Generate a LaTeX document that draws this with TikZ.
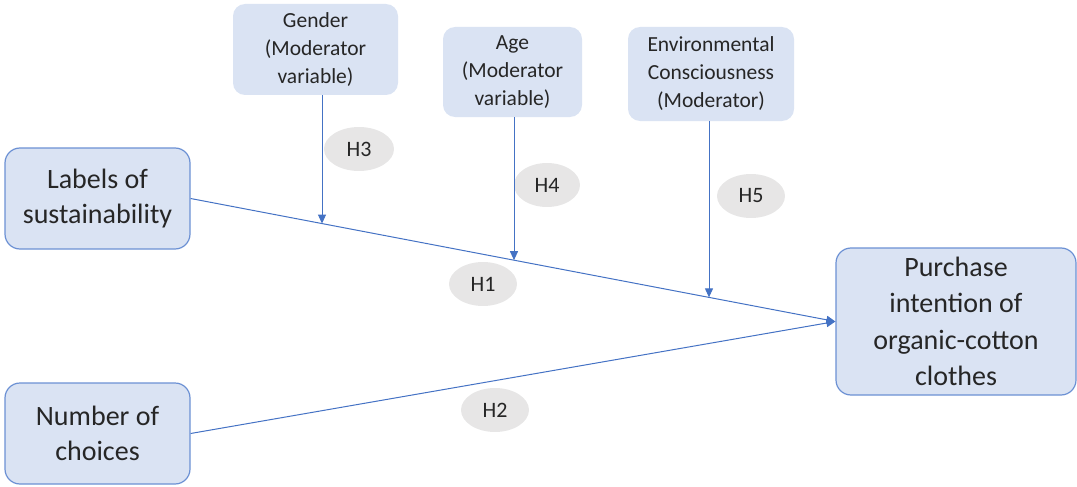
\documentclass[tikz,border=0pt]{standalone}
\usepackage{fontspec}
\setmainfont{Carlito}
\usetikzlibrary{arrows.meta,shapes.geometric,calc}
\definecolor{boxfill}{HTML}{DAE3F3}
\definecolor{boxline}{HTML}{6C91D4}
\definecolor{arrowc}{HTML}{4472C4}
\definecolor{ellfill}{HTML}{E7E6E6}
\definecolor{txt}{HTML}{262626}
\tikzset{
  mainbox/.style={draw=boxline, line width=1.2pt, fill=boxfill, rounded corners=15pt, align=center, text=txt,
    font=\fontsize{28}{35}\selectfont, inner sep=0pt},
  modbox/.style={fill=boxfill, rounded corners=12pt, align=center, text=txt,
    font=\fontsize{21.5}{28}\selectfont, inner sep=0pt},
  hyp/.style={ellipse, fill=ellfill, text=txt, minimum width=68pt, minimum height=44pt, inner sep=0pt,
    font=\fontsize{22}{26}\selectfont},
  conn/.style={draw=arrowc, line width=1pt},
  modarrow/.style={draw=arrowc, line width=1pt, -{Triangle[length=9pt,width=8pt]}},
}
\begin{document}
\begin{tikzpicture}[x=1pt,y=-1pt]
\useasboundingbox (0,0) rectangle (1077,487);
% main boxes
\node[mainbox, minimum width=185pt, minimum height=101pt] (lab) at (97.5,198.5) {\raisebox{-2pt}{\parbox{180pt}{\centering Labels of\\sustainability}}};
\node[mainbox, minimum width=185pt, minimum height=101pt] (num) at (97.5,433.5) {\raisebox{-2pt}{\parbox{180pt}{\centering Number of\\choices}}};
\node[mainbox, minimum width=240pt, minimum height=147pt, font=\fontsize{28}{36.3}\selectfont] (pur) at (956,321.5) {Purchase\\intention of\\organic-cotton\\clothes};
% moderators
\node[modbox, minimum width=165pt, minimum height=91pt] (gen) at (315.5,49.5) {Gender\\(Moderator\\variable)};
\node[modbox, minimum width=139pt, minimum height=90pt] (age) at (512.5,72) {Age\\(Moderator\\variable)};
\node[modbox, minimum width=166pt, minimum height=94pt] (env) at (711,74) {Environmental\\Consciousness\\(Moderator)};
% hypotheses
\node[hyp, minimum width=70pt] (h3) at (359,149) {H3};
\node[hyp, minimum width=66pt] (h4) at (547,185) {H4};
\node[hyp] (h5) at (751,196) {H5};
\node[hyp] (h1) at (483,284) {H1};
\node[hyp] (h2) at (495,410) {H2};
% main paths
\draw[conn, -{Triangle[length=9pt,width=8pt]}] (lab.east) -- (pur.west);
\draw[conn, -{Triangle[length=9pt,width=8pt]}] (num.east) -- (pur.west);
% moderator target points on H1 path
\coordinate (g1) at (intersection of lab.east--pur.west and 322,0--322,500);
\coordinate (a1) at (intersection of lab.east--pur.west and 514,0--514,500);
\coordinate (e1) at (intersection of lab.east--pur.west and 709,0--709,500);
\draw[modarrow] (gen.south -| g1) -- (g1);
\draw[modarrow] (age.south -| a1) -- (a1);
\draw[modarrow] (env.south -| e1) -- (e1);
\end{tikzpicture}
\end{document}
